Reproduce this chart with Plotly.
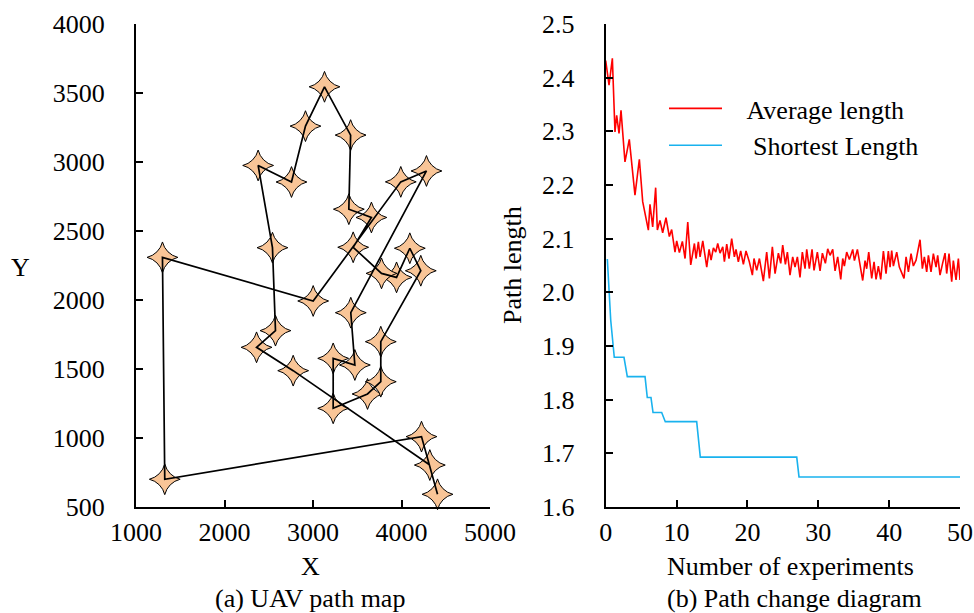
import plotly.graph_objects as go

W, H = 974, 613

# ---------------- (a) UAV path map : waypoints in visiting order ----------------
path_x = [4407, 4226, 1325, 1299, 3002, 3992, 4282, 3427, 3473, 3228, 3228, 3616, 3766, 3766,
          4218, 4094, 3944, 3774, 3454, 3660, 3405, 3425, 3130, 2915, 2757, 2380, 2542, 2576,
          2362, 2776, 4320]
path_y = [592, 1010, 701, 2309, 1993, 2856, 2935, 1908, 1529, 1577, 1215, 1319, 1408, 1698,
          2212, 2375, 2164, 2193, 2382, 2598, 2658, 3195, 3545, 3260, 2855, 2975, 2379, 1778,
          1657, 1488, 804]

x_ticks_a = [1000, 2000, 3000, 4000, 5000]
y_ticks_a = [500, 1000, 1500, 2000, 2500, 3000, 3500, 4000]

# ---------------- (b) Path change diagram ----------------
avg_x = [0, 0.47, 0.94, 1.31, 1.55, 1.88, 2.16, 2.72, 3.33, 4.13, 4.75, 5.22, 6.02, 6.25, 6.63,
         7.05, 7.29, 7.66, 8.04, 8.51, 8.98, 9.31, 9.78, 10.02, 10.4, 10.82, 11.2, 11.58, 12.0,
         12.52, 12.75, 13.08, 13.32, 13.7, 14.26, 14.59, 14.87, 15.2, 15.53, 15.81, 16.14, 16.52,
         16.75, 17.08, 17.40, 17.78, 18.16, 18.39, 18.72, 19.05, 19.43, 19.80, 20.27, 20.70,
         20.93, 21.31, 21.69, 22.25, 22.72, 23.10, 23.52, 23.90, 24.37, 24.70, 24.98, 25.36,
         25.64, 26.01, 26.39, 26.72, 27.05, 27.42, 27.75, 28.13, 28.37, 28.74, 29.12, 29.40,
         29.87, 30.25, 30.58, 31.00, 31.33, 31.66, 32.04, 32.37, 32.74, 33.17, 33.45, 33.68,
         34.01, 34.39, 34.86, 35.10, 35.52, 35.89, 36.27, 36.60, 36.83, 37.12, 37.54, 37.87,
         38.15, 38.48, 38.81, 39.19, 39.56, 39.89, 40.13, 40.36, 40.60, 41.07, 41.44, 42.10,
         42.39, 42.72, 43.09, 43.42, 43.80, 44.36, 44.69, 44.97, 45.30, 45.54, 45.91, 46.24,
         46.62, 46.85, 47.18, 47.56, 47.89, 48.12, 48.45, 48.83, 49.06, 49.44, 49.77, 50.0]
avg_y = [2.432, 2.386, 2.436, 2.299, 2.330, 2.296, 2.339, 2.243, 2.285, 2.181, 2.248, 2.169,
         2.116, 2.164, 2.122, 2.195, 2.116, 2.134, 2.111, 2.139, 2.104, 2.117, 2.075, 2.096,
         2.074, 2.095, 2.063, 2.131, 2.051, 2.091, 2.063, 2.094, 2.066, 2.096, 2.047, 2.080,
         2.060, 2.083, 2.075, 2.091, 2.073, 2.085, 2.057, 2.090, 2.063, 2.100, 2.066, 2.080,
         2.057, 2.077, 2.052, 2.077, 2.057, 2.032, 2.063, 2.041, 2.063, 2.021, 2.075, 2.026,
         2.085, 2.035, 2.073, 2.054, 2.088, 2.052, 2.075, 2.032, 2.066, 2.047, 2.066, 2.028,
         2.075, 2.044, 2.080, 2.044, 2.080, 2.041, 2.075, 2.040, 2.073, 2.054, 2.081, 2.069,
         2.080, 2.040, 2.066, 2.024, 2.063, 2.049, 2.075, 2.061, 2.080, 2.059, 2.080, 2.047,
         2.022, 2.059, 2.044, 2.075, 2.026, 2.057, 2.024, 2.049, 2.024, 2.077, 2.035, 2.077,
         2.047, 2.078, 2.049, 2.075, 2.047, 2.026, 2.066, 2.038, 2.072, 2.049, 2.060, 2.098,
         2.044, 2.066, 2.038, 2.069, 2.038, 2.072, 2.047, 2.069, 2.032, 2.055, 2.073, 2.035,
         2.072, 2.020, 2.059, 2.023, 2.063, 2.023]

short_x = [0.23, 0.71, 1.21, 2.58, 3.05, 5.55, 5.87, 6.39, 6.68, 7.9, 8.41, 12.84, 13.35,
           26.96, 27.28, 50]
short_y = [2.062, 1.948, 1.879, 1.879, 1.843, 1.843, 1.804, 1.804, 1.776, 1.776, 1.759,
           1.759, 1.693, 1.693, 1.656, 1.656]

x_ticks_b = [0, 10, 20, 30, 40, 50]
y_ticks_b = [1.6, 1.7, 1.8, 1.9, 2.0, 2.1, 2.2, 2.3, 2.4, 2.5]

FONT = "Liberation Serif"
FS = 26

fig = go.Figure()

# markers first, path line drawn on top of them (as in the reference)
fig.add_trace(go.Scatter(
    x=path_x, y=path_y, mode="markers", xaxis="x", yaxis="y", showlegend=False,
    marker=dict(symbol="star-diamond", size=22, color="#F9C597",
                line=dict(color="black", width=1)),
    cliponaxis=False))
fig.add_trace(go.Scatter(
    x=path_x, y=path_y, mode="lines", xaxis="x", yaxis="y", showlegend=False,
    line=dict(color="black", width=1.7), cliponaxis=False))

fig.add_trace(go.Scatter(
    x=avg_x, y=avg_y, mode="lines", xaxis="x2", yaxis="y2",
    name="\u00a0\u00a0\u00a0Average length",
    line=dict(color="#FF0000", width=1.6)))
fig.add_trace(go.Scatter(
    x=short_x, y=short_y, mode="lines", xaxis="x2", yaxis="y2",
    name="\u00a0\u00a0\u00a0 Shortest Length",
    line=dict(color="#19B2EE", width=1.6)))

ybot = 1 - 507 / H
ytop = 1 - 24 / H

axis_common = dict(
    showline=True, linecolor="black", linewidth=2, mirror=False,
    ticks="inside", ticklen=7, tickwidth=1.6, tickcolor="black",
    showgrid=False, zeroline=False, automargin=False,
    tickfont=dict(family=FONT, size=FS, color="black"),
)

fig.update_layout(
    width=W, height=H,
    margin=dict(l=0, r=0, t=0, b=0, autoexpand=False),
    paper_bgcolor="white", plot_bgcolor="white",
    font=dict(family=FONT, size=FS, color="black"),
    xaxis=dict(domain=[136 / W, 490 / W], range=[1000, 5000], tickvals=x_ticks_a,
               anchor="y", ticklabelstandoff=1, **axis_common),
    yaxis=dict(domain=[ybot, ytop], range=[500, 4000], tickvals=y_ticks_a,
               anchor="x", ticklabelstandoff=24, **axis_common),
    xaxis2=dict(domain=[605.7 / W, 960 / W], range=[0, 50], tickvals=x_ticks_b,
                anchor="y2", ticklabelstandoff=1, **axis_common),
    yaxis2=dict(domain=[ybot, ytop], range=[1.6, 2.5], tickvals=y_ticks_b,
                ticktext=[f"{v:.1f}" for v in y_ticks_b],
                anchor="x2", ticklabelstandoff=24, **axis_common),
    legend=dict(x=664 / W, y=1 - 85 / H, xanchor="left", yanchor="top",
                bgcolor="rgba(0,0,0,0)", font=dict(family=FONT, size=FS, color="black"),
                itemwidth=53, tracegroupgap=0),
    annotations=[
        dict(text="X", x=310 / W, y=1 - 566 / H, xref="paper", yref="paper",
             showarrow=False, xanchor="center", yanchor="middle"),
        dict(text="Y", x=20 / W, y=1 - 268 / H, xref="paper", yref="paper",
             showarrow=False, xanchor="center", yanchor="middle"),
        dict(text="Number of experiments", x=790 / W, y=1 - 566 / H, xref="paper",
             yref="paper", showarrow=False, xanchor="center", yanchor="middle"),
        dict(text="Path length", x=512 / W, y=1 - 265 / H, xref="paper", yref="paper",
             showarrow=False, xanchor="center", yanchor="middle", textangle=-90),
        dict(text="(a) UAV path map", x=310 / W, y=1 - 598 / H, xref="paper",
             yref="paper", showarrow=False, xanchor="center", yanchor="middle"),
        dict(text="(b) Path change diagram", x=794 / W, y=1 - 598 / H, xref="paper",
             yref="paper", showarrow=False, xanchor="center", yanchor="middle"),
    ],
)

fig.write_html("out.html")
